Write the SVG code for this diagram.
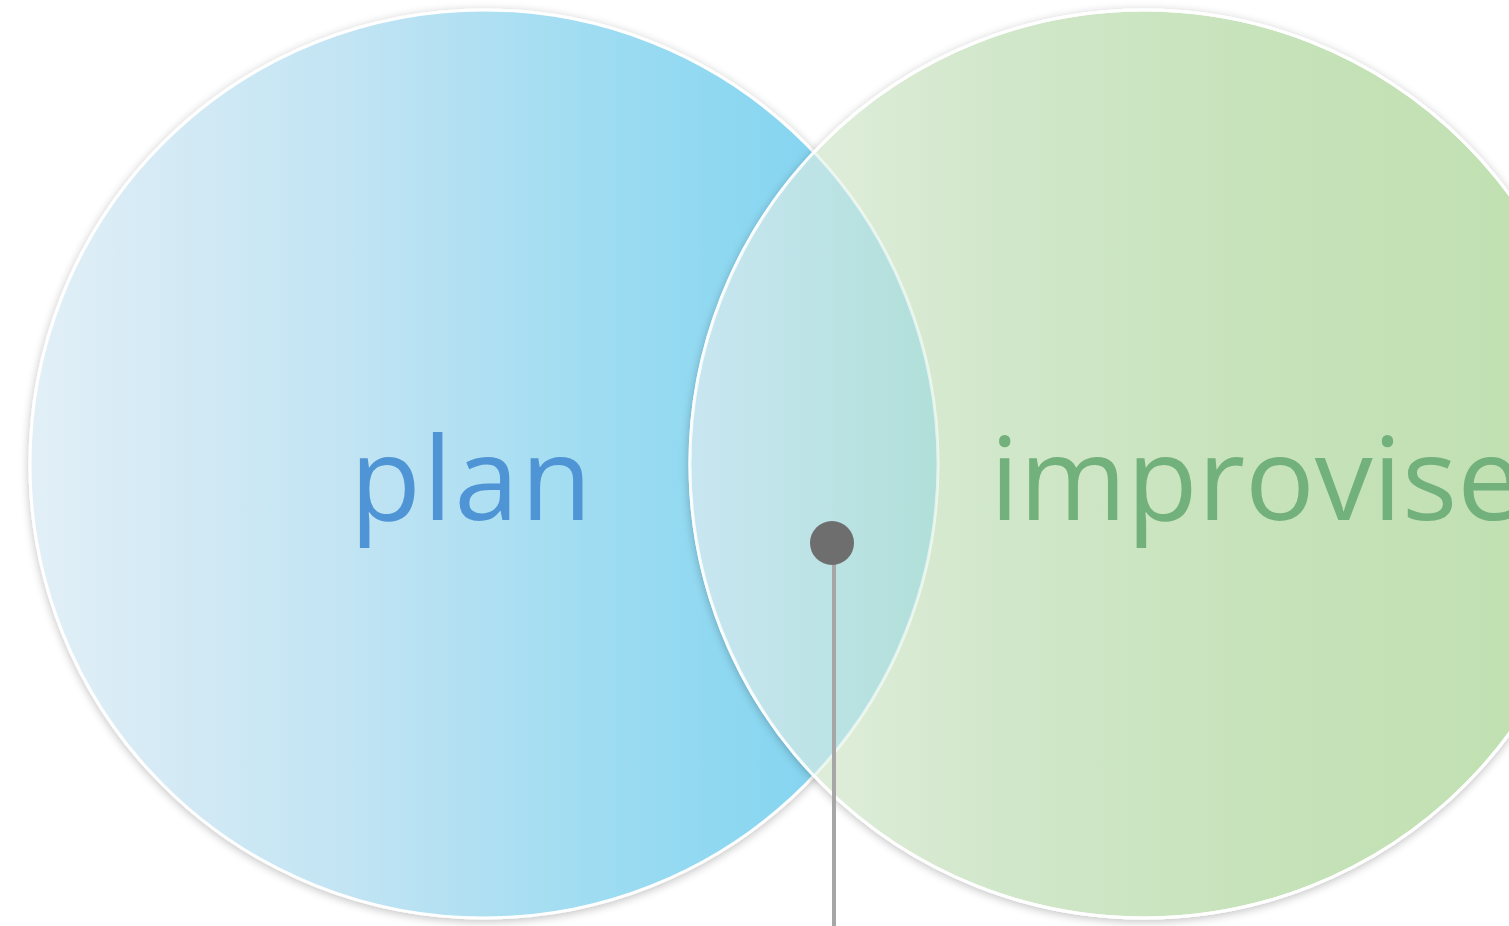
<svg xmlns="http://www.w3.org/2000/svg" width="1509" height="926" viewBox="0 0 1509 926">
<style>
.ring{fill:none;stroke:#ffffff;stroke-width:3}
.lbl{font-family:"Open Sans","Noto Sans",sans-serif;font-size:116px}
</style>
<defs>
<linearGradient id="gBlue" x1="0" y1="0" x2="1" y2="0">
<stop offset="0" stop-color="#e2eff7"/>
<stop offset="0.35" stop-color="#c2e4f3"/>
<stop offset="0.7" stop-color="#95daf1"/>
<stop offset="1" stop-color="#78d0f0"/>
</linearGradient>
<linearGradient id="gGreen" x1="0" y1="0" x2="1" y2="0">
<stop offset="0" stop-color="#e4f0e0"/>
<stop offset="0.18" stop-color="#dcecd7"/>
<stop offset="0.34" stop-color="#d1e7ca"/>
<stop offset="0.67" stop-color="#c5e2b8"/>
<stop offset="1" stop-color="#c0e0b0"/>
</linearGradient>
<linearGradient id="gOver" gradientUnits="userSpaceOnUse" x1="690" y1="0" x2="938" y2="0">
<stop offset="0" stop-color="#c8e6f1"/>
<stop offset="0.5" stop-color="#bde3e6"/>
<stop offset="1" stop-color="#b0dfd8"/>
</linearGradient>
<clipPath id="clipGreen"><circle cx="1144" cy="464" r="454"/></clipPath>
<filter id="shadow" x="-10%" y="-10%" width="120%" height="120%">
<feGaussianBlur in="SourceAlpha" stdDeviation="5"/>
<feOffset dx="0" dy="2" result="b"/>
<feComponentTransfer><feFuncA type="linear" slope="0.25"/></feComponentTransfer>
<feMerge><feMergeNode/><feMergeNode in="SourceGraphic"/></feMerge>
</filter>
</defs>
<rect width="1509" height="926" fill="#ffffff"/>
<g id="plan">
<circle cx="484" cy="464" r="454" fill="url(#gBlue)" stroke="#ffffff" stroke-width="3" filter="url(#shadow)"/>
<text class="lbl" x="350" y="520" fill="#4f94d4" letter-spacing="2">plan</text>
</g>
<g id="improvise">
<circle cx="1144" cy="464" r="454" fill="url(#gGreen)" stroke="#ffffff" stroke-width="3" filter="url(#shadow)"/>
<circle cx="484" cy="464" r="454" fill="url(#gOver)" clip-path="url(#clipGreen)"/>
<circle class="ring" cx="484" cy="464" r="454" clip-path="url(#clipGreen)" stroke-opacity="0.6"/>
<circle class="ring" cx="1144" cy="464" r="454" stroke-opacity="0.8"/>
<text class="lbl" x="990" y="520" fill="#72b07c">improvise</text>
</g>
<g id="connectors">
<line x1="834" y1="545" x2="834" y2="926" stroke="#a6a6a6" stroke-width="4"/>
<circle cx="832" cy="543" r="22" fill="#6e6e6e"/>
</g>
</svg>
